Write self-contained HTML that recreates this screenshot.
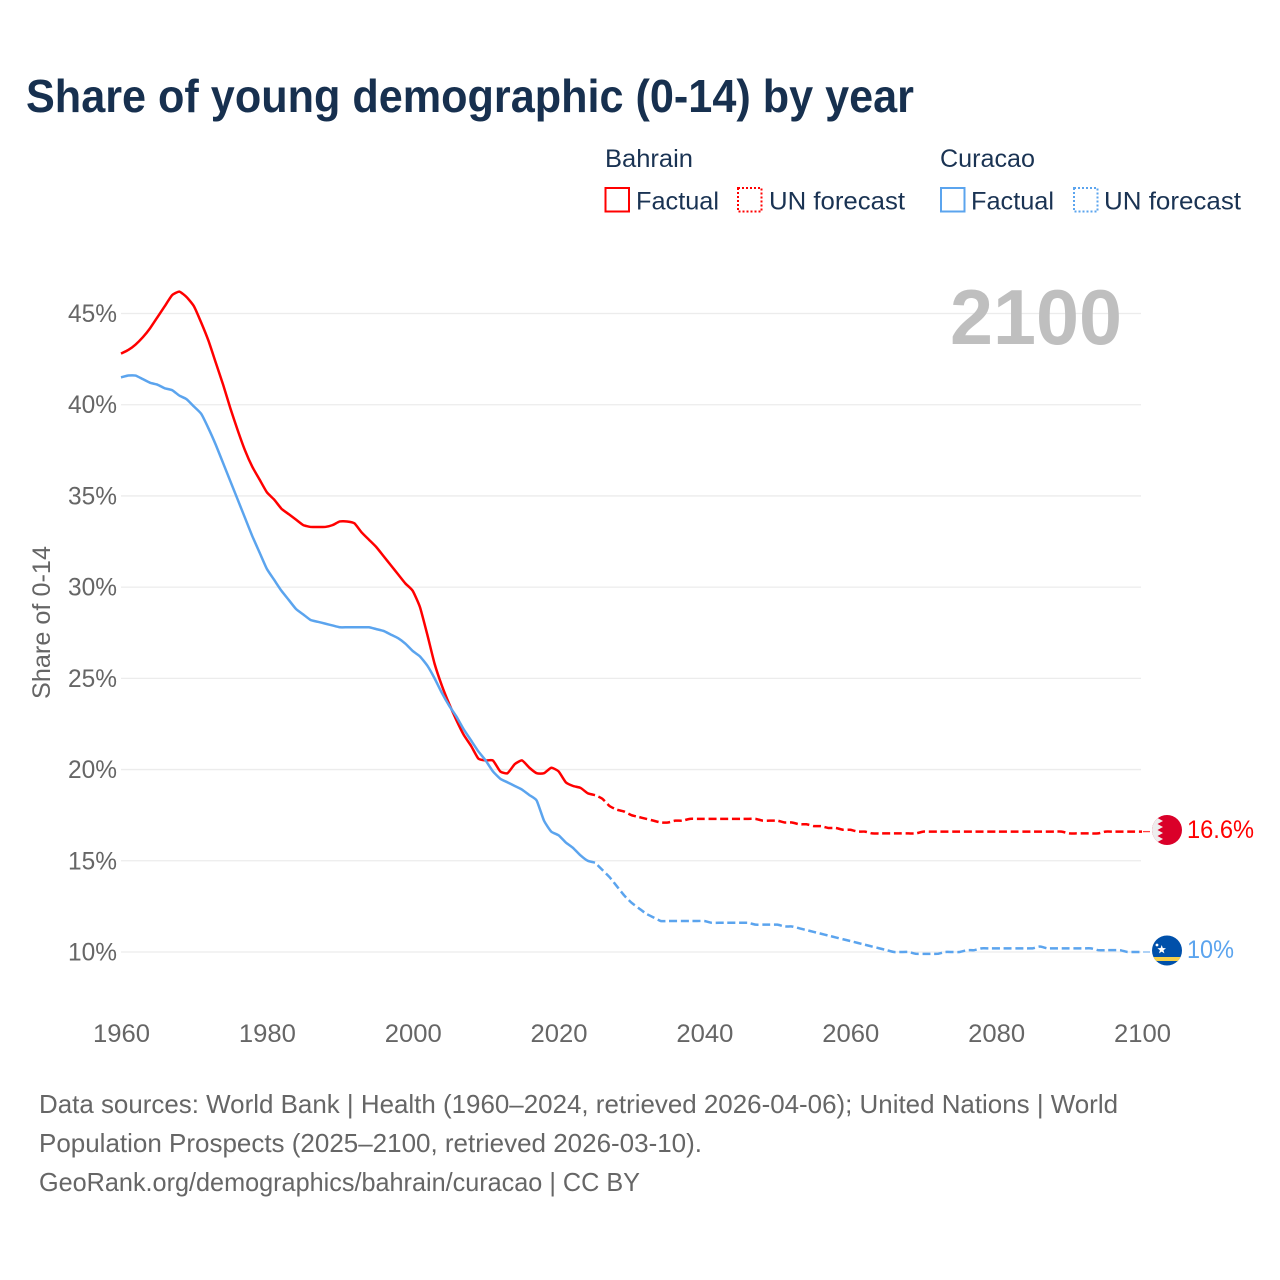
<!DOCTYPE html>
<html lang="en">
<head>
<meta charset="utf-8">
<title>Share of young demographic (0-14) by year</title>
<style>
html,body{margin:0;padding:0;background:#fff;width:1280px;height:1280px;overflow:hidden}
svg{display:block}
text{font-family:"Liberation Sans",sans-serif}
</style>
</head>
<body>
<svg id="chart" width="1280" height="1280" viewBox="0 0 1280 1280" xmlns="http://www.w3.org/2000/svg">
  <defs>
    <clipPath id="flag-clip-a"><circle cx="1167" cy="830" r="15"/></clipPath>
    <clipPath id="flag-clip-b"><circle cx="1167" cy="950.5" r="15"/></clipPath>
  </defs>
  <rect width="1280" height="1280" fill="#fff"/>
  <text x="26" y="112" font-size="46" font-weight="700" fill="#17304f" textLength="888" lengthAdjust="spacingAndGlyphs">Share of young demographic (0-14) by year</text>

  <g>
    <text x="605" y="167" font-size="25" fill="#1a3353" textLength="88" lengthAdjust="spacingAndGlyphs">Bahrain</text>
    <rect x="605.5" y="188" width="23.5" height="23.5" fill="none" stroke="#ff0000" stroke-width="2"/>
    <text x="636" y="209.5" font-size="25" fill="#1a3353" textLength="83" lengthAdjust="spacingAndGlyphs">Factual</text>
    <rect x="738" y="188" width="23.5" height="23.5" fill="none" stroke="#ff0000" stroke-width="2" stroke-dasharray="2 2"/>
    <text x="769" y="209.5" font-size="25" fill="#1a3353" textLength="136" lengthAdjust="spacingAndGlyphs">UN forecast</text>
    <text x="940" y="167" font-size="25" fill="#1a3353" textLength="95" lengthAdjust="spacingAndGlyphs">Curacao</text>
    <rect x="941" y="188" width="23.5" height="23.5" fill="none" stroke="#5ba4ee" stroke-width="2"/>
    <text x="971" y="209.5" font-size="25" fill="#1a3353" textLength="83" lengthAdjust="spacingAndGlyphs">Factual</text>
    <rect x="1074" y="188" width="23.5" height="23.5" fill="none" stroke="#5ba4ee" stroke-width="2" stroke-dasharray="2 2"/>
    <text x="1104" y="209.5" font-size="25" fill="#1a3353" textLength="137" lengthAdjust="spacingAndGlyphs">UN forecast</text>
  </g>

  <g id="grid"></g>
  <text x="950" y="344" font-size="78" font-weight="700" fill="#bfbfbf" textLength="172" lengthAdjust="spacingAndGlyphs">2100</text>
  <g id="y-labels"></g>
  <g id="x-labels"></g>
  <text transform="translate(50,699) rotate(-90)" font-size="25" fill="#666" textLength="153" lengthAdjust="spacingAndGlyphs">Share of 0-14</text>
  <g id="series"></g>

  <g>
    <g clip-path="url(#flag-clip-a)">
      <rect x="1152" y="815" width="30" height="30" fill="#da0029"/>
      <polygon points="1152,815 1163,815 1157.5,818 1163,821 1157.5,824 1163,827 1157.5,830 1163,833 1157.5,836 1163,839 1157.5,842 1163,845 1152,845" fill="#eeeeee"/>
    </g>
  </g>
  <g>
    <g clip-path="url(#flag-clip-b)">
      <rect x="1152" y="935" width="30" height="31" fill="#0050aa"/>
      <rect x="1152" y="957" width="30" height="4" fill="#f5cf4a"/>
    </g>
    <polygon points="1161.7,945 1162.8,948 1166,948.2 1163.5,950.2 1164.4,953.4 1161.7,951.6 1159,953.4 1159.9,950.2 1157.4,948.2 1160.6,948" fill="#ffffff"/>
    <circle cx="1157" cy="945" r="1.4" fill="#ffffff"/>
  </g>
  <text x="1187" y="838" font-size="25" fill="#ff0000" textLength="67" lengthAdjust="spacingAndGlyphs">16.6%</text>
  <text x="1187" y="958" font-size="25" fill="#5ba4ee" textLength="47" lengthAdjust="spacingAndGlyphs">10%</text>

  <g font-size="26" fill="#666">
    <text x="39" y="1113" textLength="1079" lengthAdjust="spacingAndGlyphs">Data sources: World Bank | Health (1960–2024, retrieved 2026-04-06); United Nations | World</text>
    <text x="39" y="1152" textLength="663" lengthAdjust="spacingAndGlyphs">Population Prospects (2025–2100, retrieved 2026-03-10).</text>
    <text x="39" y="1191" textLength="601" lengthAdjust="spacingAndGlyphs">GeoRank.org/demographics/bahrain/curacao | CC BY</text>
  </g>
</svg>
<script>
const xTickYears = [1960, 1980, 2000, 2020, 2040, 2060, 2080, 2100];
const yTickValues = [10, 15, 20, 25, 30, 35, 40, 45];
const factualStartYear = 1960;
const forecastStartYear = 2025;
const bahrainFactual = [
  42.8, 43.0, 43.3, 43.7, 44.2, 44.8, 45.4, 46.0, 46.2, 45.9,
  45.4, 44.5, 43.5, 42.3, 41.1, 39.8, 38.6, 37.5, 36.6, 35.9,
  35.2, 34.8, 34.3, 34.0, 33.7, 33.4, 33.3, 33.3, 33.3, 33.4,
  33.6, 33.6, 33.5, 33.0, 32.6, 32.2, 31.7, 31.2, 30.7, 30.2,
  29.8, 28.9, 27.4, 25.8, 24.6, 23.6, 22.7, 21.9, 21.3, 20.6,
  20.5, 20.5, 19.9, 19.8, 20.3, 20.5, 20.1, 19.8, 19.8, 20.1,
  19.9, 19.3, 19.1, 19.0, 18.7, 18.6
];
const bahrainForecast = [
  18.6, 18.4, 18.0, 17.8, 17.7,
  17.5, 17.4, 17.3, 17.2, 17.1, 17.1, 17.2, 17.2, 17.3, 17.3,
  17.3, 17.3, 17.3, 17.3, 17.3, 17.3, 17.3, 17.3, 17.2, 17.2,
  17.2, 17.1, 17.1, 17.0, 17.0, 16.9, 16.9, 16.8, 16.8, 16.7,
  16.7, 16.6, 16.6, 16.5, 16.5, 16.5, 16.5, 16.5, 16.5, 16.5,
  16.6, 16.6, 16.6, 16.6, 16.6, 16.6, 16.6, 16.6, 16.6, 16.6,
  16.6, 16.6, 16.6, 16.6, 16.6, 16.6, 16.6, 16.6, 16.6, 16.6,
  16.5, 16.5, 16.5, 16.5, 16.5, 16.6, 16.6, 16.6, 16.6, 16.6,
  16.6
];
const curacaoFactual = [
  41.5, 41.6, 41.6, 41.4, 41.2, 41.1, 40.9, 40.8, 40.5, 40.3,
  39.9, 39.5, 38.7, 37.8, 36.8, 35.8, 34.8, 33.8, 32.8, 31.9,
  31.0, 30.4, 29.8, 29.3, 28.8, 28.5, 28.2, 28.1, 28.0, 27.9,
  27.8, 27.8, 27.8, 27.8, 27.8, 27.7, 27.6, 27.4, 27.2, 26.9,
  26.5, 26.2, 25.7, 25.0, 24.2, 23.5, 22.9, 22.2, 21.6, 21.0,
  20.5, 19.9, 19.5, 19.3, 19.1, 18.9, 18.6, 18.3, 17.2, 16.6,
  16.4, 16.0, 15.7, 15.3, 15.0, 14.9
];
const curacaoForecast = [
  14.9, 14.5, 14.1, 13.6, 13.1,
  12.7, 12.4, 12.1, 11.9, 11.7, 11.7, 11.7, 11.7, 11.7, 11.7,
  11.7, 11.6, 11.6, 11.6, 11.6, 11.6, 11.6, 11.5, 11.5, 11.5,
  11.5, 11.4, 11.4, 11.3, 11.2, 11.1, 11.0, 10.9, 10.8, 10.7,
  10.6, 10.5, 10.4, 10.3, 10.2, 10.1, 10.0, 10.0, 10.0, 9.9,
  9.9, 9.9, 9.9, 10.0, 10.0, 10.0, 10.1, 10.1, 10.2, 10.2,
  10.2, 10.2, 10.2, 10.2, 10.2, 10.2, 10.3, 10.2, 10.2, 10.2,
  10.2, 10.2, 10.2, 10.2, 10.1, 10.1, 10.1, 10.1, 10.0, 10.0,
  10.0
];

const SVGNS = 'http://www.w3.org/2000/svg';
const xScale = function (year) { return 121 + (year - 1960) * (1021 / 140); };
const yScale = function (pct) { return 952 - (pct - 10) * (638.5 / 35); };

function make(tag, parent) {
  const el = document.createElementNS(SVGNS, tag);
  parent.appendChild(el);
  return el;
}

const grid = document.getElementById('grid');
const yLabels = document.getElementById('y-labels');
const xLabels = document.getElementById('x-labels');
const seriesGroup = document.getElementById('series');

yTickValues.forEach(function (v) {
  const line = make('line', grid);
  
  
  line.setAttribute('x1', 121);
  line.setAttribute('x2', 1141);
  line.setAttribute('y1', yScale(v));
  line.setAttribute('y2', yScale(v));
  line.setAttribute('stroke', '#ececec');
  line.setAttribute('stroke-width', 1.3);

  const t = make('text', yLabels);
  
  
  t.setAttribute('x', 68);
  t.setAttribute('y', yScale(v) + 8.5);
  t.setAttribute('font-size', 25);
  t.setAttribute('fill', '#666');
  t.setAttribute('textLength', 49);
  t.setAttribute('lengthAdjust', 'spacingAndGlyphs');
  t.textContent = v + '%';
});

xTickYears.forEach(function (yr) {
  const t = make('text', xLabels);
  
  
  t.setAttribute('x', xScale(yr) - 28);
  t.setAttribute('y', 1042);
  t.setAttribute('font-size', 25);
  t.setAttribute('fill', '#666');
  t.setAttribute('textLength', 57);
  t.setAttribute('lengthAdjust', 'spacingAndGlyphs');
  t.textContent = yr;
});

function pathFrom(values, startYear) {
  const pts = values.map(function (v, i) {
    return [xScale(startYear + i), yScale(v)];
  });
  let d = 'M' + pts[0][0].toFixed(2) + ' ' + pts[0][1].toFixed(2);
  const k = 1 / 12;
  for (let i = 0; i < pts.length - 1; i++) {
    const p0 = pts[Math.max(i - 1, 0)];
    const p1 = pts[i];
    const p2 = pts[i + 1];
    const p3 = pts[Math.min(i + 2, pts.length - 1)];
    d += ' C' + (p1[0] + (p2[0] - p0[0]) * k).toFixed(2) + ' ' + (p1[1] + (p2[1] - p0[1]) * k).toFixed(2) +
         ' ' + (p2[0] - (p3[0] - p1[0]) * k).toFixed(2) + ' ' + (p2[1] - (p3[1] - p1[1]) * k).toFixed(2) +
         ' ' + p2[0].toFixed(2) + ' ' + p2[1].toFixed(2);
  }
  return d;
}

function drawCountry(name, color, factual, forecast) {
  const solid = make('path', seriesGroup);
  
  
  solid.setAttribute('d', pathFrom(factual, factualStartYear));
  solid.setAttribute('fill', 'none');
  solid.setAttribute('stroke', color);
  solid.setAttribute('stroke-width', 2.5);
  solid.setAttribute('stroke-linejoin', 'round');

  const dashed = make('path', seriesGroup);
  
  
  dashed.setAttribute('d', pathFrom(forecast, forecastStartYear));
  dashed.setAttribute('fill', 'none');
  dashed.setAttribute('stroke', color);
  dashed.setAttribute('stroke-width', 2.5);
  dashed.setAttribute('stroke-dasharray', '8 3.7');
  dashed.setAttribute('stroke-dashoffset', '8');

  const lastValue = forecast[forecast.length - 1];
  const lastYear = forecastStartYear + forecast.length - 1;
  const leader = make('line', seriesGroup);
  
  
  leader.setAttribute('x1', xScale(lastYear) + 1);
  leader.setAttribute('x2', 1150);
  leader.setAttribute('y1', yScale(lastValue));
  leader.setAttribute('y2', yScale(lastValue));
  leader.setAttribute('stroke', color);
  leader.setAttribute('stroke-width', 1.3);
  leader.setAttribute('stroke-opacity', 0.75);
}

drawCountry('bahrain', '#ff0000', bahrainFactual, bahrainForecast);
drawCountry('curacao', '#5ba4ee', curacaoFactual, curacaoForecast);
</script>
</body>
</html>
